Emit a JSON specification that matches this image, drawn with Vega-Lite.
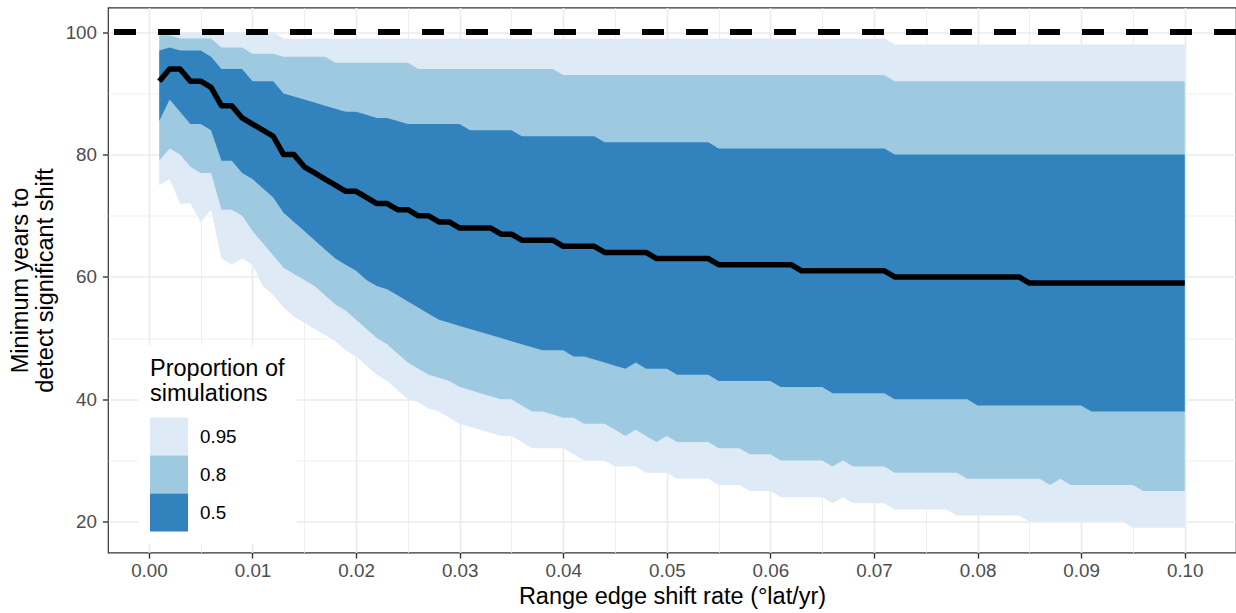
{
  "$schema": "https://vega.github.io/schema/vega-lite/v6.json",
  "width": 1128,
  "height": 545,
  "autosize": {"type": "none"},
  "padding": {"left": 108, "top": 7.5, "right": 0, "bottom": 60.5},
  "background": "white",
  "data": {"values": [
    {"x":0.001,"lo95":75,"lo80":79,"lo50":85.5,"med":92,"hi50":97,"hi80":99.5,"hi95":100},
    {"x":0.002,"lo95":76,"lo80":81,"lo50":89,"med":94,"hi50":97.5,"hi80":99.5,"hi95":100},
    {"x":0.003,"lo95":72,"lo80":80,"lo50":87,"med":94,"hi50":97,"hi80":99,"hi95":100},
    {"x":0.004,"lo95":72,"lo80":78,"lo50":85,"med":92,"hi50":97,"hi80":99,"hi95":100},
    {"x":0.005,"lo95":69,"lo80":77,"lo50":85,"med":92,"hi50":97,"hi80":99,"hi95":100},
    {"x":0.006,"lo95":71,"lo80":77,"lo50":84,"med":91,"hi50":96,"hi80":99,"hi95":100},
    {"x":0.007,"lo95":63,"lo80":71,"lo50":79,"med":88,"hi50":94,"hi80":97.5,"hi95":100},
    {"x":0.008,"lo95":62,"lo80":71,"lo50":79,"med":88,"hi50":94,"hi80":97.5,"hi95":100},
    {"x":0.009,"lo95":63,"lo80":70,"lo50":77,"med":86,"hi50":94,"hi80":97.5,"hi95":100},
    {"x":0.010,"lo95":62,"lo80":67.5,"lo50":76,"med":85,"hi50":92,"hi80":96.5,"hi95":100},
    {"x":0.011,"lo95":58.5,"lo80":65.5,"lo50":74.5,"med":84,"hi50":92,"hi80":96.5,"hi95":100},
    {"x":0.012,"lo95":57,"lo80":63.5,"lo50":73,"med":83,"hi50":92,"hi80":96.5,"hi95":100},
    {"x":0.013,"lo95":55,"lo80":61.5,"lo50":70.5,"med":80,"hi50":90,"hi80":96,"hi95":99},
    {"x":0.014,"lo95":53.5,"lo80":60.5,"lo50":69,"med":80,"hi50":89.5,"hi80":96,"hi95":99},
    {"x":0.015,"lo95":52.5,"lo80":59.5,"lo50":67.5,"med":78,"hi50":89,"hi80":96,"hi95":99},
    {"x":0.016,"lo95":51.5,"lo80":58.5,"lo50":66,"med":77,"hi50":88.5,"hi80":96,"hi95":99},
    {"x":0.017,"lo95":50.5,"lo80":57,"lo50":64.5,"med":76,"hi50":88,"hi80":96,"hi95":99},
    {"x":0.018,"lo95":49.5,"lo80":55.5,"lo50":63,"med":75,"hi50":87.5,"hi80":95,"hi95":99},
    {"x":0.019,"lo95":48,"lo80":54.5,"lo50":62,"med":74,"hi50":87,"hi80":95,"hi95":99},
    {"x":0.020,"lo95":47,"lo80":53,"lo50":61,"med":74,"hi50":87,"hi80":95,"hi95":99},
    {"x":0.021,"lo95":45.5,"lo80":51.5,"lo50":59.5,"med":73,"hi50":86.5,"hi80":95,"hi95":99},
    {"x":0.022,"lo95":44,"lo80":50,"lo50":58.5,"med":72,"hi50":86,"hi80":95,"hi95":99},
    {"x":0.023,"lo95":43,"lo80":49,"lo50":58,"med":72,"hi50":86,"hi80":95,"hi95":99},
    {"x":0.024,"lo95":41.5,"lo80":47.5,"lo50":57,"med":71,"hi50":85.5,"hi80":95,"hi95":99},
    {"x":0.025,"lo95":40,"lo80":46,"lo50":56,"med":71,"hi50":85,"hi80":95,"hi95":99},
    {"x":0.026,"lo95":39.5,"lo80":45,"lo50":55,"med":70,"hi50":85,"hi80":94,"hi95":99},
    {"x":0.027,"lo95":38.5,"lo80":44,"lo50":54,"med":70,"hi50":85,"hi80":94,"hi95":99},
    {"x":0.028,"lo95":38,"lo80":43.5,"lo50":53,"med":69,"hi50":85,"hi80":94,"hi95":99},
    {"x":0.029,"lo95":37,"lo80":43,"lo50":52.5,"med":69,"hi50":85,"hi80":94,"hi95":99},
    {"x":0.030,"lo95":36,"lo80":42,"lo50":52,"med":68,"hi50":85,"hi80":94,"hi95":99},
    {"x":0.031,"lo95":35.5,"lo80":41.5,"lo50":51.5,"med":68,"hi50":84,"hi80":94,"hi95":99},
    {"x":0.032,"lo95":35,"lo80":41,"lo50":51,"med":68,"hi50":84,"hi80":94,"hi95":99},
    {"x":0.033,"lo95":34.5,"lo80":40.5,"lo50":50.5,"med":68,"hi50":84,"hi80":94,"hi95":99},
    {"x":0.034,"lo95":34,"lo80":40,"lo50":50,"med":67,"hi50":84,"hi80":94,"hi95":99},
    {"x":0.035,"lo95":34,"lo80":40,"lo50":49.5,"med":67,"hi50":84,"hi80":94,"hi95":99},
    {"x":0.036,"lo95":33,"lo80":39,"lo50":49,"med":66,"hi50":83,"hi80":94,"hi95":99},
    {"x":0.037,"lo95":32,"lo80":38,"lo50":48.5,"med":66,"hi50":83,"hi80":94,"hi95":99},
    {"x":0.038,"lo95":32,"lo80":38,"lo50":48,"med":66,"hi50":83,"hi80":94,"hi95":99},
    {"x":0.039,"lo95":32,"lo80":37.5,"lo50":48,"med":66,"hi50":83,"hi80":94,"hi95":99},
    {"x":0.040,"lo95":32,"lo80":37,"lo50":48,"med":65,"hi50":83,"hi80":93,"hi95":99},
    {"x":0.041,"lo95":31,"lo80":37,"lo50":47,"med":65,"hi50":83,"hi80":93,"hi95":99},
    {"x":0.042,"lo95":30,"lo80":36,"lo50":47,"med":65,"hi50":83,"hi80":93,"hi95":99},
    {"x":0.043,"lo95":30,"lo80":36,"lo50":46.5,"med":65,"hi50":83,"hi80":93,"hi95":99},
    {"x":0.044,"lo95":30,"lo80":36,"lo50":46,"med":64,"hi50":82,"hi80":93,"hi95":99},
    {"x":0.045,"lo95":29,"lo80":35,"lo50":45.5,"med":64,"hi50":82,"hi80":93,"hi95":99},
    {"x":0.046,"lo95":29,"lo80":34,"lo50":45,"med":64,"hi50":82,"hi80":93,"hi95":99},
    {"x":0.047,"lo95":29,"lo80":35,"lo50":46,"med":64,"hi50":82,"hi80":93,"hi95":99},
    {"x":0.048,"lo95":28,"lo80":34,"lo50":45,"med":64,"hi50":82,"hi80":93,"hi95":99},
    {"x":0.049,"lo95":28,"lo80":33,"lo50":45,"med":63,"hi50":82,"hi80":93,"hi95":99},
    {"x":0.050,"lo95":28,"lo80":34,"lo50":45,"med":63,"hi50":82,"hi80":93,"hi95":99},
    {"x":0.051,"lo95":27,"lo80":33,"lo50":44,"med":63,"hi50":82,"hi80":93,"hi95":99},
    {"x":0.052,"lo95":27,"lo80":33,"lo50":44,"med":63,"hi50":82,"hi80":93,"hi95":99},
    {"x":0.053,"lo95":27,"lo80":33,"lo50":44,"med":63,"hi50":82,"hi80":93,"hi95":99},
    {"x":0.054,"lo95":27,"lo80":33,"lo50":44,"med":63,"hi50":82,"hi80":93,"hi95":99},
    {"x":0.055,"lo95":26,"lo80":32,"lo50":43,"med":62,"hi50":81,"hi80":93,"hi95":99},
    {"x":0.056,"lo95":26,"lo80":32,"lo50":43,"med":62,"hi50":81,"hi80":93,"hi95":99},
    {"x":0.057,"lo95":26,"lo80":32,"lo50":43,"med":62,"hi50":81,"hi80":93,"hi95":99},
    {"x":0.058,"lo95":25,"lo80":31,"lo50":43,"med":62,"hi50":81,"hi80":93,"hi95":99},
    {"x":0.059,"lo95":25,"lo80":31,"lo50":43,"med":62,"hi50":81,"hi80":93,"hi95":99},
    {"x":0.060,"lo95":25,"lo80":31,"lo50":43,"med":62,"hi50":81,"hi80":93,"hi95":99},
    {"x":0.061,"lo95":24,"lo80":30,"lo50":42,"med":62,"hi50":81,"hi80":93,"hi95":99},
    {"x":0.062,"lo95":24,"lo80":30,"lo50":42,"med":62,"hi50":81,"hi80":93,"hi95":99},
    {"x":0.063,"lo95":24,"lo80":30,"lo50":42,"med":61,"hi50":81,"hi80":93,"hi95":99},
    {"x":0.064,"lo95":24,"lo80":30,"lo50":42,"med":61,"hi50":81,"hi80":93,"hi95":99},
    {"x":0.065,"lo95":24,"lo80":30,"lo50":42,"med":61,"hi50":81,"hi80":93,"hi95":99},
    {"x":0.066,"lo95":23,"lo80":29,"lo50":41,"med":61,"hi50":81,"hi80":93,"hi95":99},
    {"x":0.067,"lo95":24,"lo80":30,"lo50":41,"med":61,"hi50":81,"hi80":93,"hi95":99},
    {"x":0.068,"lo95":23,"lo80":29,"lo50":41,"med":61,"hi50":81,"hi80":93,"hi95":99},
    {"x":0.069,"lo95":23,"lo80":29,"lo50":41,"med":61,"hi50":81,"hi80":93,"hi95":99},
    {"x":0.070,"lo95":23,"lo80":29,"lo50":41,"med":61,"hi50":81,"hi80":93,"hi95":99},
    {"x":0.071,"lo95":23,"lo80":29,"lo50":41,"med":61,"hi50":81,"hi80":93,"hi95":99},
    {"x":0.072,"lo95":22,"lo80":28,"lo50":40,"med":60,"hi50":80,"hi80":92,"hi95":98},
    {"x":0.073,"lo95":22,"lo80":28,"lo50":40,"med":60,"hi50":80,"hi80":92,"hi95":98},
    {"x":0.074,"lo95":22,"lo80":28,"lo50":40,"med":60,"hi50":80,"hi80":92,"hi95":98},
    {"x":0.075,"lo95":22,"lo80":28,"lo50":40,"med":60,"hi50":80,"hi80":92,"hi95":98},
    {"x":0.076,"lo95":22,"lo80":28,"lo50":40,"med":60,"hi50":80,"hi80":92,"hi95":98},
    {"x":0.077,"lo95":22,"lo80":28,"lo50":40,"med":60,"hi50":80,"hi80":92,"hi95":98},
    {"x":0.078,"lo95":21,"lo80":28,"lo50":40,"med":60,"hi50":80,"hi80":92,"hi95":98},
    {"x":0.079,"lo95":21,"lo80":27,"lo50":40,"med":60,"hi50":80,"hi80":92,"hi95":98},
    {"x":0.080,"lo95":21,"lo80":27,"lo50":39,"med":60,"hi50":80,"hi80":92,"hi95":98},
    {"x":0.081,"lo95":21,"lo80":27,"lo50":39,"med":60,"hi50":80,"hi80":92,"hi95":98},
    {"x":0.082,"lo95":21,"lo80":27,"lo50":39,"med":60,"hi50":80,"hi80":92,"hi95":98},
    {"x":0.083,"lo95":21,"lo80":27,"lo50":39,"med":60,"hi50":80,"hi80":92,"hi95":98},
    {"x":0.084,"lo95":21,"lo80":27,"lo50":39,"med":60,"hi50":80,"hi80":92,"hi95":98},
    {"x":0.085,"lo95":20,"lo80":27,"lo50":39,"med":59,"hi50":80,"hi80":92,"hi95":98},
    {"x":0.086,"lo95":20,"lo80":27,"lo50":39,"med":59,"hi50":80,"hi80":92,"hi95":98},
    {"x":0.087,"lo95":20,"lo80":26,"lo50":39,"med":59,"hi50":80,"hi80":92,"hi95":98},
    {"x":0.088,"lo95":20,"lo80":27,"lo50":39,"med":59,"hi50":80,"hi80":92,"hi95":98},
    {"x":0.089,"lo95":20,"lo80":26,"lo50":39,"med":59,"hi50":80,"hi80":92,"hi95":98},
    {"x":0.090,"lo95":20,"lo80":26,"lo50":39,"med":59,"hi50":80,"hi80":92,"hi95":98},
    {"x":0.091,"lo95":20,"lo80":26,"lo50":38,"med":59,"hi50":80,"hi80":92,"hi95":98},
    {"x":0.092,"lo95":20,"lo80":26,"lo50":38,"med":59,"hi50":80,"hi80":92,"hi95":98},
    {"x":0.093,"lo95":20,"lo80":26,"lo50":38,"med":59,"hi50":80,"hi80":92,"hi95":98},
    {"x":0.094,"lo95":20,"lo80":26,"lo50":38,"med":59,"hi50":80,"hi80":92,"hi95":98},
    {"x":0.095,"lo95":19,"lo80":26,"lo50":38,"med":59,"hi50":80,"hi80":92,"hi95":98},
    {"x":0.096,"lo95":19,"lo80":25,"lo50":38,"med":59,"hi50":80,"hi80":92,"hi95":98},
    {"x":0.097,"lo95":19,"lo80":25,"lo50":38,"med":59,"hi50":80,"hi80":92,"hi95":98},
    {"x":0.098,"lo95":19,"lo80":25,"lo50":38,"med":59,"hi50":80,"hi80":92,"hi95":98},
    {"x":0.099,"lo95":19,"lo80":25,"lo50":38,"med":59,"hi50":80,"hi80":92,"hi95":98},
    {"x":0.100,"lo95":19,"lo80":25,"lo50":38,"med":59,"hi50":80,"hi80":92,"hi95":98}
  ]},
  "layer": [
    {
      "mark": {"type": "area", "opacity": 1, "interpolate": "linear"},
      "encoding": {
        "x": {"field": "x", "type": "quantitative",
          "scale": {"domain": [-0.00395, 0.10495], "nice": false, "zero": false},
          "axis": {
            "title": "Range edge shift rate (°lat/yr)",
            "values": [0,0.005,0.01,0.015,0.02,0.025,0.03,0.035,0.04,0.045,0.05,0.055,0.06,0.065,0.07,0.075,0.08,0.085,0.09,0.095,0.1],
            "labelExpr": "round(datum.value*200) % 2 === 0 ? format(datum.value, '.2f') : ''",
            "gridWidth": {"condition": {"test": "round(datum.value*200) % 2 === 0", "value": 1.6}, "value": 0.8},
            "tickOpacity": {"condition": {"test": "round(datum.value*200) % 2 === 0", "value": 1}, "value": 0},
            "labelPadding": 3,
            "titlePadding": 5
          }
        },
        "y": {"field": "hi95", "type": "quantitative",
          "scale": {"domain": [14.95, 104.05], "nice": false, "zero": false},
          "title": ["Minimum years to", "detect significant shift"],
          "axis": {
            "title": ["Minimum years to", "detect significant shift"],
            "values": [20,30,40,50,60,70,80,90,100],
            "labelExpr": "datum.value % 20 === 0 ? datum.label : ''",
            "gridWidth": {"condition": {"test": "datum.value % 20 === 0", "value": 1.6}, "value": 0.8},
            "tickOpacity": {"condition": {"test": "datum.value % 20 === 0", "value": 1}, "value": 0},
            "labelPadding": 6,
            "titlePadding": 8,
            "titleLineHeight": 25
          }
        },
        "y2": {"field": "lo95"},
        "color": {"datum": "0.95", "type": "nominal",
          "scale": {"domain": ["0.95", "0.8", "0.5"], "range": ["#DEEBF7", "#9ECAE1", "#3182BD"]},
          "legend": {"title": ["Proportion of", "simulations"]}
        }
      }
    },
    {
      "mark": {"type": "area", "opacity": 1, "interpolate": "linear"},
      "encoding": {
        "x": {"field": "x", "type": "quantitative"},
        "y": {"field": "hi80", "type": "quantitative", "title": ["Minimum years to", "detect significant shift"]},
        "y2": {"field": "lo80"},
        "color": {"datum": "0.8", "type": "nominal",
          "scale": {"domain": ["0.95", "0.8", "0.5"], "range": ["#DEEBF7", "#9ECAE1", "#3182BD"]},
          "legend": {"title": ["Proportion of", "simulations"]}
        }
      }
    },
    {
      "mark": {"type": "area", "opacity": 1, "interpolate": "linear"},
      "encoding": {
        "x": {"field": "x", "type": "quantitative"},
        "y": {"field": "hi50", "type": "quantitative", "title": ["Minimum years to", "detect significant shift"]},
        "y2": {"field": "lo50"},
        "color": {"datum": "0.5", "type": "nominal",
          "scale": {"domain": ["0.95", "0.8", "0.5"], "range": ["#DEEBF7", "#9ECAE1", "#3182BD"]},
          "legend": {"title": ["Proportion of", "simulations"]}
        }
      }
    },
    {
      "mark": {"type": "line", "color": "#000000", "strokeWidth": 5.5, "strokeJoin": "round", "strokeCap": "butt", "interpolate": "linear"},
      "encoding": {
        "x": {"field": "x", "type": "quantitative"},
        "y": {"field": "med", "type": "quantitative", "title": ["Minimum years to", "detect significant shift"]}
      }
    },
    {
      "mark": {"type": "rule", "color": "#000000", "strokeWidth": 5.5, "strokeDash": [22, 22], "strokeCap": "butt"},
      "encoding": {
        "y": {"datum": 100}
      }
    }
  ],
  "config": {
    "font": "Liberation Sans",
    "view": {"stroke": "#333333", "strokeWidth": 1.2},
    "axis": {
      "domain": false,
      "gridColor": "#EBEBEB",
      "tickColor": "#333333",
      "tickWidth": 1.4,
      "tickSize": 5.5,
      "labelFontSize": 18.8,
      "labelColor": "#4D4D4D",
      "labelFont": "Liberation Sans",
      "labelOverlap": false,
      "labelFlush": false,
      "labelBound": false,
      "titleFont": "Liberation Sans",
      "titleFontSize": 23.5,
      "titleFontWeight": "normal",
      "titleColor": "#000000"
    },
    "legend": {
      "orient": "none",
      "legendX": 30,
      "legendY": 337.5,
      "fillColor": "white",
      "padding": 12,
      "symbolType": "square",
      "symbolSize": 1444,
      "symbolStrokeWidth": 0,
      "symbolOpacity": 1,
      "rowPadding": 0,
      "labelOffset": 12,
      "labelFontSize": 18.8,
      "labelColor": "#000000",
      "labelFont": "Liberation Sans",
      "titleFont": "Liberation Sans",
      "titleFontSize": 23.5,
      "titleFontWeight": "normal",
      "titleColor": "#000000",
      "titleLineHeight": 25,
      "titlePadding": 12,
      "titleLimit": 400
    }
  }
}
